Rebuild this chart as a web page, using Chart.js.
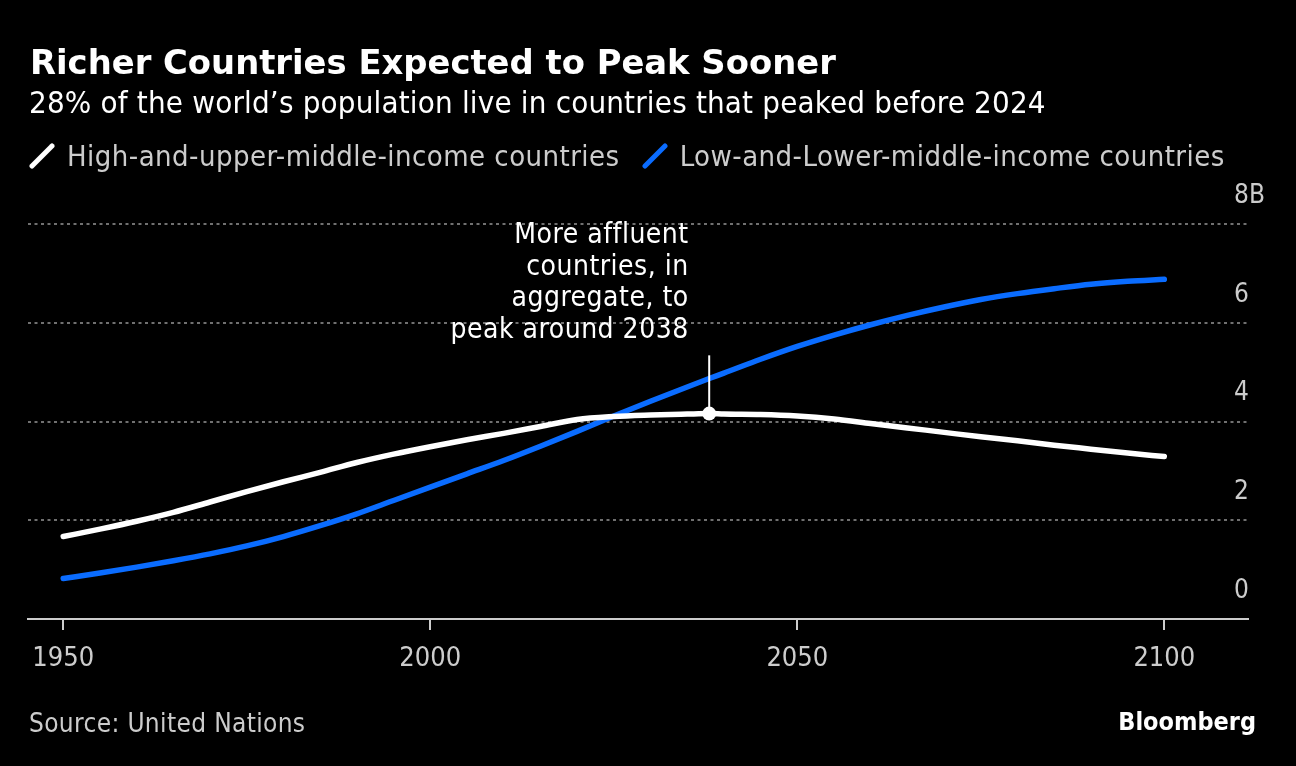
<!DOCTYPE html>
<html>
<head>
<meta charset="utf-8">
<script src="https://cdn.jsdelivr.net/npm/chart.js@4.4.1/dist/chart.umd.min.js"></script>
<style>
  html, body { margin: 0; padding: 0; background: #000; }
  #wrap { position: relative; width: 1296px; height: 766px; background: #000; overflow: hidden; }
  #chart { position: absolute; left: 0; top: 0; }
  .txt { position: absolute; white-space: nowrap; line-height: 1; }
  #title { left: 30px; top: 43px; font: bold 33.8px 'DejaVu Sans'; color: #fff; }
  #subtitle { left: 29px; top: 84px; font: 31px 'DejaVu Sans Condensed'; letter-spacing: 0.18px; color: #fff; }
  #legend { left: 29px; top: 139px; font: 29px 'DejaVu Sans Condensed'; letter-spacing: 0.45px; color: #ccc; display: flex; align-items: center; }
  .li { display: flex; align-items: center; margin-right: 22px; }
  .li svg { margin-right: 12px; }
  #source { left: 29px; top: 708px; font: 26px 'DejaVu Sans Condensed'; letter-spacing: 0.35px; color: #ccc; }
  #brand { right: 40px; top: 707px; font: bold 25px 'DejaVu Sans Condensed'; color: #fff; }
</style>
</head>
<body>
<div id="wrap">
  <canvas id="chart" width="1296" height="766"></canvas>
  <div class="txt" id="title">Richer Countries Expected to Peak Sooner</div>
  <div class="txt" id="subtitle">28% of the world’s population live in countries that peaked before 2024</div>
  <div class="txt" id="legend"></div>
  <div class="txt" id="source">Source: United Nations</div>
  <div class="txt" id="brand">Bloomberg</div>
</div>
<script>
// ---- data ----
const years = [1950,1955,1960,1965,1970,1975,1980,1985,1990,1995,2000,2005,2010,2015,2020,2025,2030,2035,2038,2040,2045,2050,2055,2060,2065,2070,2075,2080,2085,2090,2095,2100];
const highIncome = [1.67,1.82,1.98,2.16,2.37,2.58,2.78,2.97,3.17,3.34,3.49,3.63,3.76,3.90,4.04,4.10,4.13,4.15,4.16,4.15,4.14,4.11,4.05,3.96,3.87,3.78,3.69,3.61,3.52,3.44,3.36,3.29];
const lowIncome  = [0.82,0.93,1.05,1.18,1.32,1.48,1.67,1.89,2.13,2.40,2.67,2.94,3.21,3.50,3.80,4.11,4.41,4.70,4.87,4.98,5.26,5.52,5.75,5.96,6.15,6.32,6.47,6.59,6.69,6.78,6.84,6.88];
const seriesNames = ['High-and-upper-middle-income countries', 'Low-and-Lower-middle-income countries'];
const seriesColors = ['#ffffff', '#0a6cff'];
const xTicks = [1950, 2000, 2050, 2100];
const yTicks = [0, 2, 4, 6, 8];
const yUnit = 'B';
const peakYear = 2038;
const annotationLines = ['More affluent', 'countries, in', 'aggregate, to', 'peak around 2038'];

const FONT = "'DejaVu Sans Condensed', 'DejaVu Sans', sans-serif";
const Y_FONT_SIZE = 26;

// legend (HTML, generated from series)
const legendEl = document.getElementById('legend');
seriesNames.forEach((name, i) => {
  const item = document.createElement('span');
  item.className = 'li';
  item.innerHTML = '<svg width="26" height="26" viewBox="0 0 26 26"><line x1="3" y1="23" x2="23" y2="3" stroke="' + seriesColors[i] + '" stroke-width="5" stroke-linecap="round"/></svg>';
  const t = document.createElement('span');
  t.textContent = name;
  item.appendChild(t);
  legendEl.appendChild(item);
});

const yLabel = (v) => v === yTicks[yTicks.length - 1] ? v + yUnit : String(v);

// widest y label, so labels can be left-aligned just inside the right edge
const mctx = document.createElement('canvas').getContext('2d');
mctx.font = Y_FONT_SIZE + 'px ' + FONT;
const widestY = Math.max(...yTicks.map(v => mctx.measureText(yLabel(v)).width));

const toPoints = (vals) => years.map((y, i) => ({ x: y, y: vals[i] }));

const annotationPlugin = {
  id: 'peakNote',
  afterDatasetsDraw(chart) {
    const { ctx, scales: { x, y } } = chart;
    const idx = years.indexOf(peakYear);
    const px = x.getPixelForValue(peakYear);
    const py = y.getPixelForValue(highIncome[idx]);
    const topY = y.getPixelForValue(5.34);
    ctx.save();
    ctx.strokeStyle = '#fff';
    ctx.lineWidth = 2;
    ctx.beginPath();
    ctx.moveTo(px, topY);
    ctx.lineTo(px, py);
    ctx.stroke();
    ctx.beginPath();
    ctx.fillStyle = '#fff';
    ctx.arc(px, py, 7, 0, Math.PI * 2);
    ctx.fill();
    ctx.font = '28px ' + FONT;
    if ('letterSpacing' in ctx) ctx.letterSpacing = '0.5px';
    ctx.textAlign = 'right';
    ctx.textBaseline = 'middle';
    const lh = 31.5;
    const n = annotationLines.length;
    annotationLines.forEach((line, i) => {
      ctx.fillText(line, px - 20.5, topY - 25 - (n - 1 - i) * lh);
    });
    ctx.restore();
  }
};

new Chart(document.getElementById('chart'), {
  type: 'line',
  data: {
    datasets: [
      {
        label: seriesNames[0],
        data: toPoints(highIncome),
        borderColor: seriesColors[0],
        backgroundColor: seriesColors[0],
        borderWidth: 5.5,
        pointRadius: 0,
        borderCapStyle: 'round',
        cubicInterpolationMode: 'monotone'
      },
      {
        label: seriesNames[1],
        data: toPoints(lowIncome),
        borderColor: seriesColors[1],
        backgroundColor: seriesColors[1],
        borderWidth: 5.5,
        pointRadius: 0,
        borderCapStyle: 'round',
        cubicInterpolationMode: 'monotone'
      }
    ]
  },
  options: {
    responsive: false,
    animation: false,
    devicePixelRatio: 1,
    layout: { padding: { top: 224, left: 28, right: 0, bottom: 0 } },
    plugins: {
      legend: { display: false },
      title: { display: false },
      tooltip: { enabled: false }
    },
    scales: {
      x: {
        type: 'linear',
        min: 1945.2,
        max: 2111.4,
        afterBuildTicks: (s) => { s.ticks = xTicks.map(v => ({ value: v })); },
        afterFit: (s) => { s.height = 147; },
        grid: { drawOnChartArea: false, drawTicks: true, tickLength: 11, color: '#cccccc', lineWidth: 2 },
        border: { display: true, color: '#cccccc', width: 2 },
        ticks: {
          color: '#cccccc',
          font: { family: FONT, size: 27 },
          padding: 13,
          maxRotation: 0,
          callback: (v) => String(v)
        }
      },
      y: {
        position: 'right',
        min: 0,
        max: 8,
        afterBuildTicks: (s) => { s.ticks = yTicks.map(v => ({ value: v })); },
        afterFit: (s) => { s.width = 48; },
        grid: {
          drawTicks: false,
          color: (c) => (c.tick && c.tick.value === 0) ? 'rgba(0,0,0,0)' : '#707070',
          lineWidth: 2
        },
        border: { display: false, dash: [3, 3.5] },
        ticks: {
          color: '#cccccc',
          font: { family: FONT, size: Y_FONT_SIZE },
          mirror: true,
          crossAlign: 'far',
          padding: widestY - 14,
          labelOffset: -28,
          callback: yLabel
        }
      }
    }
  },
  plugins: [annotationPlugin]
});
</script>
</body>
</html>
